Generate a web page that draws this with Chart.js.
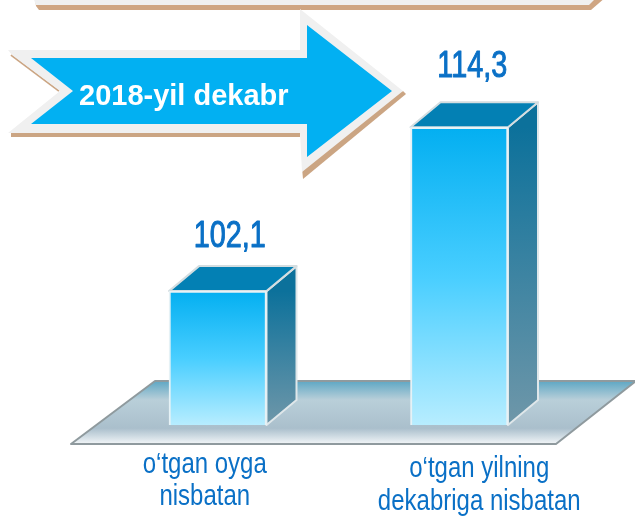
<!DOCTYPE html>
<html><head><meta charset="utf-8">
<style>html,body{margin:0;padding:0;background:#fff}canvas{display:block}</style>
<script src="https://cdn.jsdelivr.net/npm/chart.js@4"></script>
</head><body>
<canvas id="c" width="635" height="516"></canvas>
<script>
const categories = [["o‘tgan oyga","nisbatan"],["o‘tgan yilning","dekabriga nisbatan"]];
const values = [102.1,114.3];
const valueLabels = ["102,1","114,3"];
const arrowLabel = "2018-yil dekabr";

const DX=30, DY=-25;
const SANS='"Liberation Sans",sans-serif';
function poly(ctx,pts,fill,stroke,lw){
  ctx.beginPath();pts.forEach((p,i)=>i?ctx.lineTo(p[0],p[1]):ctx.moveTo(p[0],p[1]));ctx.closePath();
  if(fill){ctx.fillStyle=fill;ctx.fill();}
  if(stroke){ctx.strokeStyle=stroke;ctx.lineWidth=lw||1;ctx.lineJoin='round';ctx.stroke();}
}
function grad(ctx,y0,y1,stops){const g=ctx.createLinearGradient(0,y0,0,y1);stops.forEach(s=>g.addColorStop(s[0],s[1]));return g;}
function narrowText(ctx,txt,x,y,sx,sw){
  ctx.save();ctx.translate(x,y);ctx.scale(sx,1);
  if(sw){ctx.lineWidth=sw;ctx.strokeStyle=ctx.fillStyle;ctx.lineJoin='round';ctx.strokeText(txt,0,0);}
  ctx.fillText(txt,0,0);ctx.restore();
}

const scene={id:'scene',
  beforeDatasetsDraw(chart){
    const ctx=chart.ctx;ctx.save();
    const bottom=chart.chartArea.bottom;
    // top banner remnant
    poly(ctx,[[35,-3],[36,6],[39,10],[591,10],[606,-3]],'#cfa582');
    poly(ctx,[[33,-3],[36,5],[589,5],[597,-3]],'#f0f0f0');
    // arrow shadow + outline + fill
    poly(ctx,[[11,133],[300,133],[300,137],[11,137]],'#cba583');
    poly(ctx,[[380,100],[403,91],[406,94],[303,179],[302,168]],'#cba583');
    ctx.strokeStyle='#cba583';ctx.lineWidth=2;ctx.beginPath();ctx.moveTo(11,55);ctx.lineTo(59,91);ctx.stroke();
    poly(ctx,[[8,50],[300,50],[300,9],[403,91],[302,172],[300,133],[8,133],[60,91],[12,55]],'#f0f0f0');
    poly(ctx,[[31,58],[307,58],[307,25],[392,91],[307,157],[307,124],[31,124],[73,91]],'#02b0f2');
    ctx.fillStyle='#fff';ctx.font='bold 29px '+SANS;ctx.textAlign='left';ctx.textBaseline='alphabetic';
    ctx.fillText(arrowLabel,79,105);
    // floor
    poly(ctx,[[71,444],[155,381],[636,381],[556,444]],
      grad(ctx,381,444,[[0,'#5ea7c4'],[0.3,'#b9cfd9'],[0.75,'#aabfcc'],[1,'#f2f6f8']]),'#8f9a9e',2);
    // bar side and top faces
    chart.getDatasetMeta(0).data.forEach(b=>{
      const l=b.x-b.width/2,r=b.x+b.width/2,t=b.y;
      poly(ctx,[[r,t],[r+DX,t+DY],[r+DX,bottom+DY],[r,bottom]],grad(ctx,t,bottom,[[0,'#0c719b'],[1,'#6f97a9']]),'#dfe7ea',2);
      poly(ctx,[[l,t],[l+DX,t+DY],[r+DX,t+DY],[r,t]],'#0380b4','#d4dde0',2);
    });
    ctx.restore();
  },
  afterDatasetsDraw(chart){
    const ctx=chart.ctx;ctx.save();
    const meta=chart.getDatasetMeta(0).data;
    ctx.textAlign='center';ctx.textBaseline='alphabetic';
    meta.forEach((b,i)=>{
      ctx.fillStyle='#0a70c6';ctx.font='36px '+SANS;
      narrowText(ctx,valueLabels[i],b.x+(i?13:12),b.y+(i?-50:-44),0.8,1);
    });
    const offs=[[-13,473,505],[20,477,510]];
    const sc=chart.scales.x;
    categories.forEach((lines,i)=>{
      ctx.fillStyle='#0a70c6';ctx.font='30px '+SANS;
      const x=sc.getPixelForValue(i)+offs[i][0];
      narrowText(ctx,lines[0],x,offs[i][1],0.8);
      narrowText(ctx,lines[1],x,offs[i][2],0.8);
    });
    ctx.restore();
  }
};

new Chart(document.getElementById('c'),{
  type:'bar',
  data:{labels:categories,datasets:[{data:values,
    backgroundColor(c){
      const a=c.chart.chartArea;
      if(!a) return '#02b0f2';
      const top=c.chart.scales.y.getPixelForValue(values[c.dataIndex]);
      return grad(c.chart.ctx,top,a.bottom,[[0,'#03aff1'],[0.5,'#48ceff'],[1,'#b7edff']]);
    },
    borderColor:'#e6f2f6',borderWidth:2,barThickness:97.5}]},
  options:{responsive:false,animation:false,
    layout:{padding:{left:97,right:55,top:40,bottom:91}},
    plugins:{legend:{display:false},tooltip:{enabled:false}},
    scales:{
      x:{display:false,offset:true,grid:{display:false}},
      y:{display:false,min:92.13,max:120.8,grid:{display:false}}
    }},
  plugins:[scene]
});
</script>
</body></html>
